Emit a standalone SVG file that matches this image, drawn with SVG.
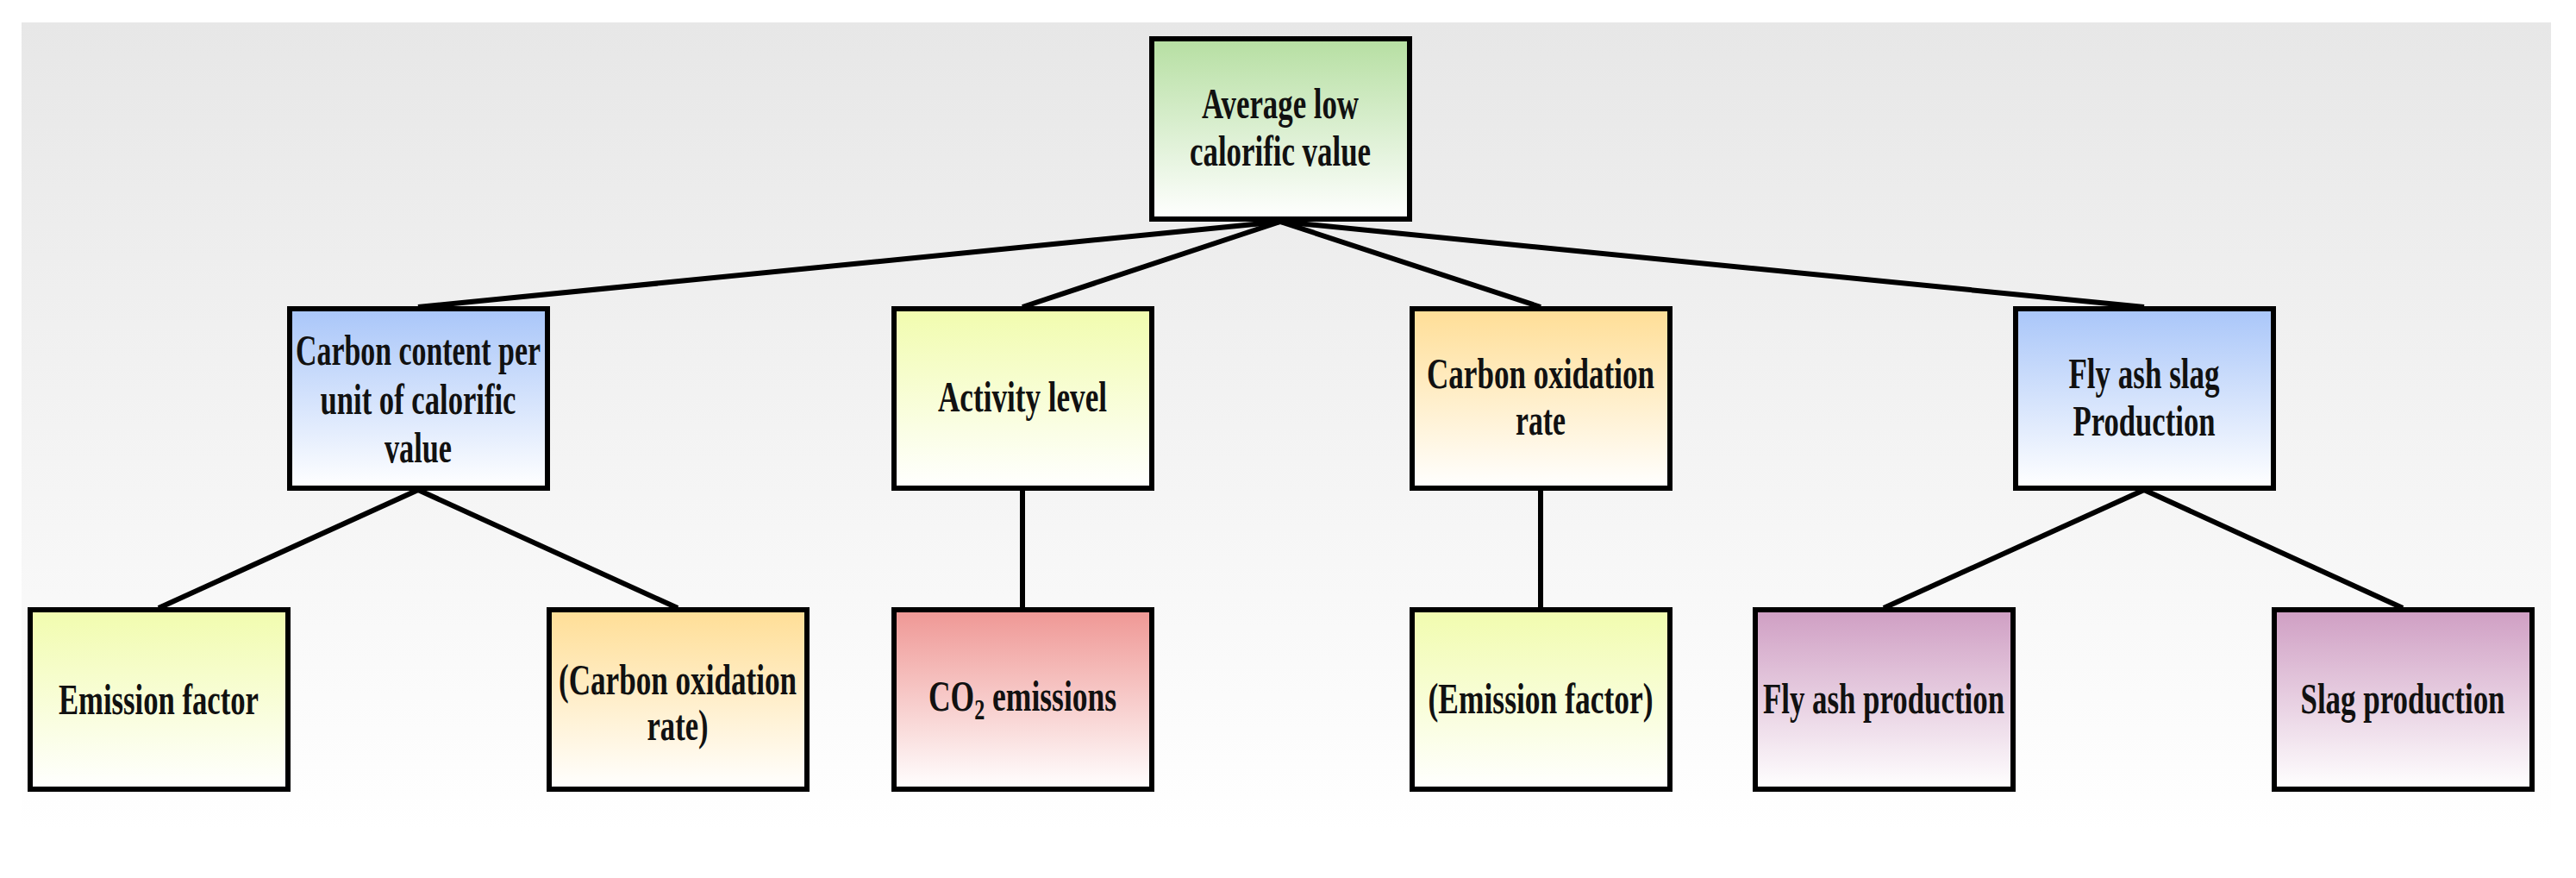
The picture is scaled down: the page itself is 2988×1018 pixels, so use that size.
<svg xmlns="http://www.w3.org/2000/svg" width="2988" height="1018" viewBox="0 0 2988 1018">
<defs>
<linearGradient id="bg" x1="0" y1="0" x2="0" y2="1"><stop offset="0" stop-color="#e7e7e7"/><stop offset="1" stop-color="#ffffff"/></linearGradient>
<linearGradient id="gGreen" x1="0" y1="0" x2="0" y2="1"><stop offset="0" stop-color="#b6dfa2"/><stop offset="1" stop-color="#ffffff"/></linearGradient>
<linearGradient id="gBlue" x1="0" y1="0" x2="0" y2="1"><stop offset="0" stop-color="#a9c6f9"/><stop offset="1" stop-color="#ffffff"/></linearGradient>
<linearGradient id="gYellow" x1="0" y1="0" x2="0" y2="1"><stop offset="0" stop-color="#f1fcae"/><stop offset="1" stop-color="#ffffff"/></linearGradient>
<linearGradient id="gOrange" x1="0" y1="0" x2="0" y2="1"><stop offset="0" stop-color="#ffde96"/><stop offset="1" stop-color="#ffffff"/></linearGradient>
<linearGradient id="gRed" x1="0" y1="0" x2="0" y2="1"><stop offset="0" stop-color="#ef9794"/><stop offset="1" stop-color="#ffffff"/></linearGradient>
<linearGradient id="gPurple" x1="0" y1="0" x2="0" y2="1"><stop offset="0" stop-color="#cf9ec3"/><stop offset="1" stop-color="#ffffff"/></linearGradient>
</defs>
<style>
.box{stroke:#000;stroke-width:6}
.t{font-family:"Liberation Serif","Times New Roman",serif;font-weight:bold;font-size:50px;fill:#111;text-anchor:middle}
.c{stroke:#000;stroke-width:6;fill:none}
</style>
<rect x="25" y="26" width="2934" height="937" fill="url(#bg)"/>
<g id="connectors">
<line class="c" x1="1485" y1="257" x2="485" y2="356"/>
<line class="c" x1="1485" y1="257" x2="1186" y2="356"/>
<line class="c" x1="1485" y1="257" x2="1787" y2="356"/>
<line class="c" x1="1485" y1="257" x2="2487" y2="356"/>
<line class="c" x1="485" y1="568" x2="184" y2="705"/>
<line class="c" x1="485" y1="568" x2="786" y2="705"/>
<line class="c" x1="1186" y1="568" x2="1186" y2="705"/>
<line class="c" x1="1787" y1="568" x2="1787" y2="705"/>
<line class="c" x1="2487" y1="568" x2="2185" y2="705"/>
<line class="c" x1="2487" y1="568" x2="2787" y2="705"/>
</g>
<g id="node-average">
<rect class="box" x="1336" y="45" width="299" height="209" fill="url(#gGreen)"/>
<text class="t" x="1485" y="137" textLength="182" lengthAdjust="spacingAndGlyphs">Average low</text>
<text class="t" x="1485" y="192" textLength="210" lengthAdjust="spacingAndGlyphs">calorific value</text>
</g>
<g id="node-carbon-content">
<rect class="box" x="336" y="358" width="299" height="208" fill="url(#gBlue)"/>
<text class="t" x="485" y="423" textLength="284" lengthAdjust="spacingAndGlyphs">Carbon content per</text>
<text class="t" x="485" y="480" textLength="227" lengthAdjust="spacingAndGlyphs">unit of calorific</text>
<text class="t" x="485" y="536" textLength="78" lengthAdjust="spacingAndGlyphs">value</text>
</g>
<g id="node-activity">
<rect class="box" x="1037" y="358" width="299" height="208" fill="url(#gYellow)"/>
<text class="t" x="1186" y="477" textLength="196" lengthAdjust="spacingAndGlyphs">Activity level</text>
</g>
<g id="node-carbon-oxidation">
<rect class="box" x="1638" y="358" width="299" height="208" fill="url(#gOrange)"/>
<text class="t" x="1787" y="450" textLength="264" lengthAdjust="spacingAndGlyphs">Carbon oxidation</text>
<text class="t" x="1787" y="504" textLength="58" lengthAdjust="spacingAndGlyphs">rate</text>
</g>
<g id="node-fly-ash-slag">
<rect class="box" x="2338" y="358" width="299" height="208" fill="url(#gBlue)"/>
<text class="t" x="2487" y="450" textLength="175" lengthAdjust="spacingAndGlyphs">Fly ash slag</text>
<text class="t" x="2487" y="505" textLength="165" lengthAdjust="spacingAndGlyphs">Production</text>
</g>
<g id="node-emission-factor">
<rect class="box" x="35" y="707" width="299" height="208" fill="url(#gYellow)"/>
<text class="t" x="184" y="828" textLength="232" lengthAdjust="spacingAndGlyphs">Emission factor</text>
</g>
<g id="node-carbon-oxidation-rate-2">
<rect class="box" x="637" y="707" width="299" height="208" fill="url(#gOrange)"/>
<text class="t" x="786" y="805" textLength="276" lengthAdjust="spacingAndGlyphs">(Carbon oxidation</text>
<text class="t" x="786" y="858" textLength="71" lengthAdjust="spacingAndGlyphs">rate)</text>
</g>
<g id="node-co2">
<rect class="box" x="1037" y="707" width="299" height="208" fill="url(#gRed)"/>
<text class="t" transform="translate(1186,824) scale(0.71,1)" x="0" y="0">CO<tspan font-size="34" dy="10">2</tspan><tspan dy="-10"> emissions</tspan></text>
</g>
<g id="node-emission-factor-2">
<rect class="box" x="1638" y="707" width="299" height="208" fill="url(#gYellow)"/>
<text class="t" x="1787" y="827" textLength="261" lengthAdjust="spacingAndGlyphs">(Emission factor)</text>
</g>
<g id="node-fly-ash">
<rect class="box" x="2036" y="707" width="299" height="208" fill="url(#gPurple)"/>
<text class="t" x="2185" y="827" textLength="280" lengthAdjust="spacingAndGlyphs">Fly ash production</text>
</g>
<g id="node-slag">
<rect class="box" x="2638" y="707" width="299" height="208" fill="url(#gPurple)"/>
<text class="t" x="2787" y="827" textLength="237" lengthAdjust="spacingAndGlyphs">Slag production</text>
</g>
</svg>
